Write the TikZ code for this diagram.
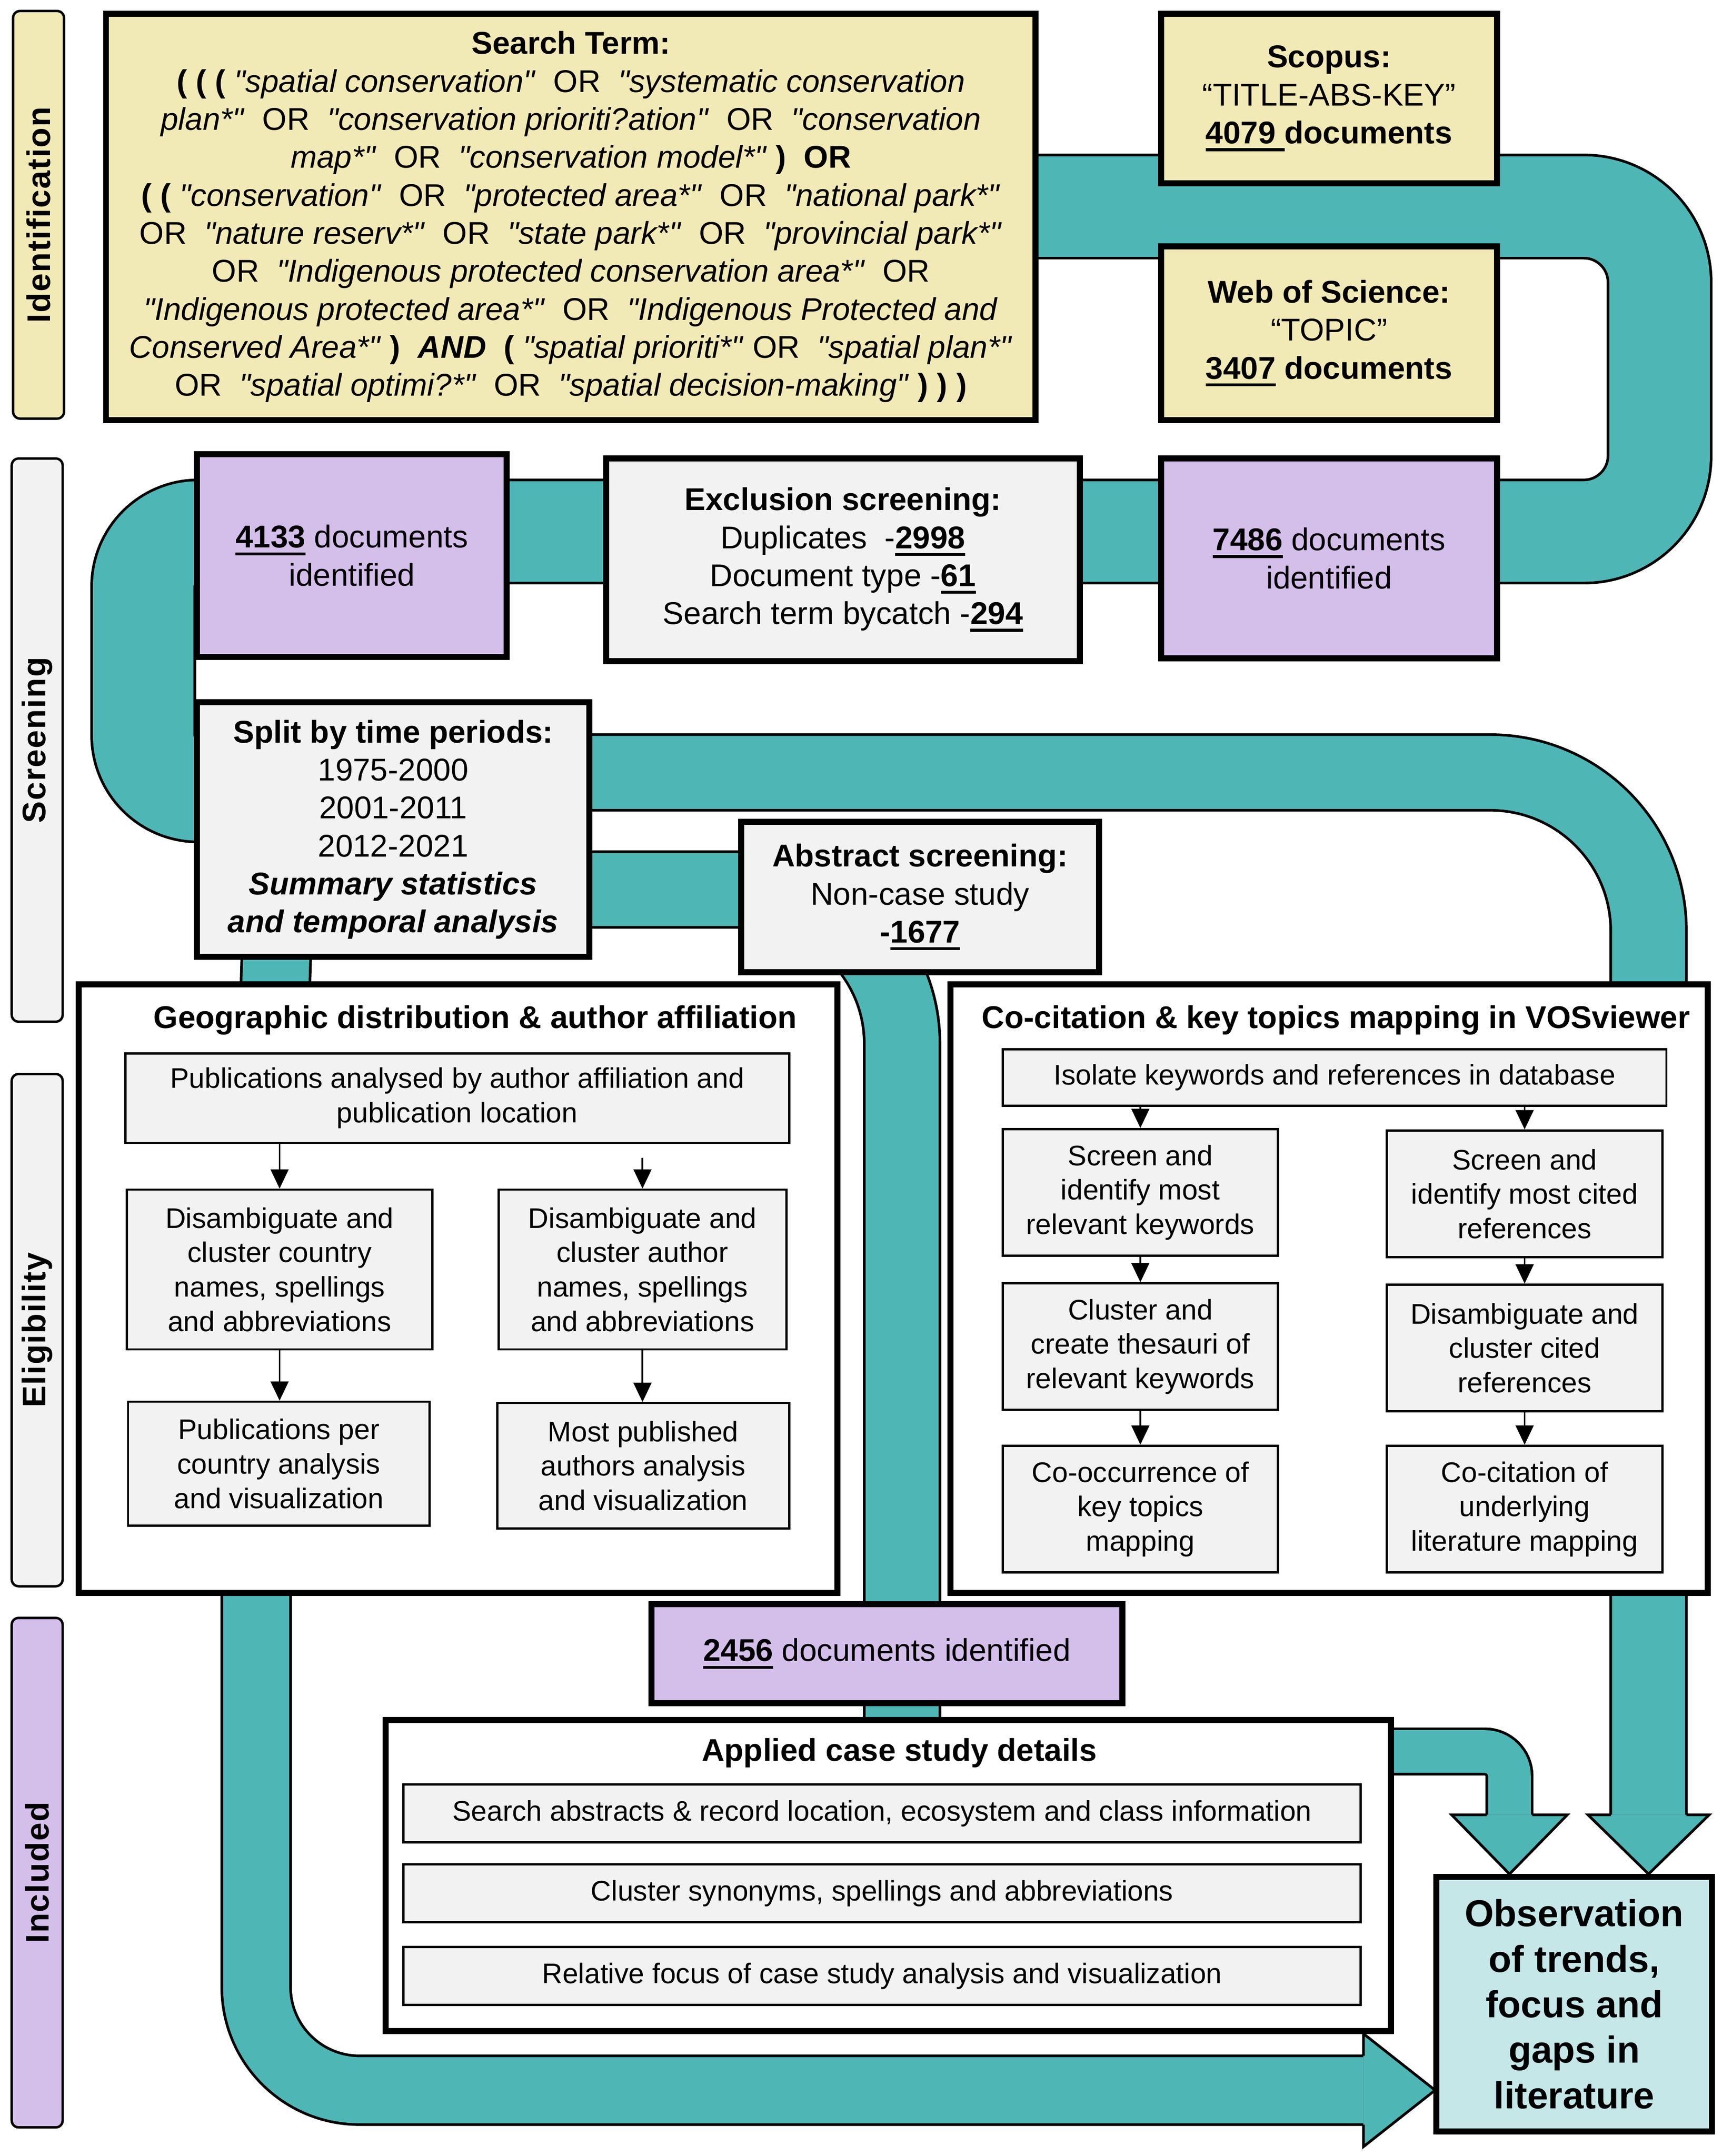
\documentclass[tikz,border=0pt]{standalone}
\usepackage{fontspec}
\setmainfont{Liberation Sans}
\newfontfamily\stagefont[LetterSpace=3]{Liberation Sans}
\usetikzlibrary{arrows.meta}

\definecolor{idyel}{HTML}{F2EAB6}
\definecolor{lav}{HTML}{D4BFEB}
\definecolor{boxgrey}{HTML}{F2F2F2}
\definecolor{pipeteal}{HTML}{4FB6B6}
\definecolor{obscyan}{HTML}{C5E7E8}

\newsavebox\undlbox
\newcommand{\undl}[1]{\sbox\undlbox{#1}\rlap{\rule[-3.1pt]{\wd\undlbox}{1.25pt}}\usebox\undlbox}
\newcommand{\orr}{\ \ OR\ \ }
% straight double quote, past the TeX ligature mapping
\newcommand{\qt}{\XeTeXglyph\XeTeXcharglyph"22\relax}

\begin{document}
\begin{tikzpicture}[x=0.2mm, y=-0.2mm,
mainbox/.style={draw, line width=2.5pt, align=center, inner sep=0pt, font=\fontsize{13}{15.7}\selectfont},
innerbox/.style={draw, line width=0.9pt, fill=boxgrey, align=center, inner sep=0pt, font=\fontsize{11.7}{14.2}\selectfont},
groupbox/.style={draw, line width=2.5pt, fill=white, inner sep=0pt},
grouptitle/.style={font=\fontsize{13}{15.7}\selectfont\bfseries},
stagelbl/.style={draw, line width=1pt, rounded corners=1mm, rotate=90, inner sep=0pt, minimum height=7.4mm, font=\stagefont\fontsize{13.5}{16}\selectfont\bfseries},
pipe/.style={draw=black, line width=1.1pt, double=pipeteal, double distance=#1},
pipehead/.style={fill=pipeteal, draw=black, line width=1.1pt, line join=miter},
arr/.style={-{Triangle[width=2.6mm,length=2.8mm]}, line width=0.7pt}
]
\useasboundingbox (0,0) rectangle (1250,1565.8);

% The stage labels
\node[stagelbl, fill=idyel, minimum width=59.2mm] (ident) at (28,156) {Identification};
\node[stagelbl, fill=boxgrey, minimum width=81.8mm] (screen) at (27,537.5) {Screening};
\node[stagelbl, fill=boxgrey, minimum width=74.4mm] (elig) at (27,966) {Eligibility};
\node[stagelbl, fill=lav, minimum width=74mm] (incl) at (27,1360) {Included};

% The pipes
\draw[pipe=14.6mm, rounded corners=11mm] (700,150) -- (1205,150) -- (1205,386) -- (960,386);
\draw[pipe=14.6mm, rounded corners=8mm] (960,386) -- (104,386) -- (104,574) -- (260,574);
\draw[pipe=10.6mm, rounded corners=23mm] (300,561) -- (1197,561) -- (1197,1318);
\draw[pipe=10.6mm, rounded corners=22.4mm] (300,646) -- (655,646) -- (655,1300);
\draw[pipe=9.6mm] (202,650) -- (186,1160) [rounded corners=15mm] -- (186,1518) -- (990,1518);
\draw[pipe=6.2mm, rounded corners=3.6mm] (900,1272) -- (1096,1272) -- (1096,1318);

% The pipe heads
\filldraw[pipehead] (990,1493) -- (990,1477) -- (1042,1518) -- (990,1559) -- (990,1543);
\filldraw[pipehead] (1169.5,1318) -- (1153,1318) -- (1197,1361) -- (1241,1318) -- (1224.5,1318);
\filldraw[pipehead] (1079.5,1318) -- (1054,1318) -- (1096,1361) -- (1138,1318) -- (1112.5,1318);

% Identification
\node[mainbox, fill=idyel, minimum width=135mm, minimum height=59mm] (search) at (414.5,157.5) {\textbf{Search Term:}\\
\textbf{( ( (} \textit{\qt{}spatial conservation\qt}\orr\textit{\qt{}systematic conservation}\\
\textit{plan*\qt}\orr\textit{\qt{}conservation prioriti?ation\qt}\orr\textit{\qt{}conservation}\\
\textit{map*\qt}\orr\textit{\qt{}conservation model*\qt} \textbf{)\ \ OR}\\
\textbf{( (} \textit{\qt{}conservation\qt}\orr\textit{\qt{}protected area*\qt}\orr\textit{\qt{}national park*\qt}\\
OR\ \ \textit{\qt{}nature reserv*\qt}\orr\textit{\qt{}state park*\qt}\orr\textit{\qt{}provincial park*\qt}\\
OR\ \ \textit{\qt{}Indigenous protected conservation area*\qt}\ \ OR\\
\textit{\qt{}Indigenous protected area*\qt}\orr\textit{\qt{}Indigenous Protected and}\\
\textit{Conserved Area*\qt} \textbf{)\ \ \textit{AND}\ \ (} \textit{\qt{}spatial prioriti*\qt} OR\ \ \textit{\qt{}spatial plan*\qt}\\
OR\ \ \textit{\qt{}spatial optimi?*\qt}\orr\textit{\qt{}spatial decision-making\qt} \textbf{) ) )}};
\node[mainbox, fill=idyel, minimum width=48.8mm, minimum height=24.6mm] (scopus) at (965,71.5) {\textbf{Scopus:}\\“TITLE-ABS-KEY”\\\textbf{\undl{4079 }documents}};
\node[mainbox, fill=idyel, minimum width=48.8mm, minimum height=25.2mm] (wos) at (965,242) {\textbf{Web of Science:}\\“TOPIC”\\\textbf{\undl{3407} documents}};

% Screening
\node[mainbox, fill=lav, minimum width=45mm, minimum height=29.4mm] (docsA) at (255.5,403.5) {\textbf{\undl{4133}} documents\\identified};
\node[mainbox, fill=boxgrey, minimum width=68.8mm, minimum height=29.4mm] (excl) at (612,406.5) {\textbf{Exclusion screening:}\\Duplicates\ \ -\textbf{\undl{2998}}\\Document type -\textbf{\undl{61}}\\Search term bycatch -\textbf{\undl{294}}};
\node[mainbox, fill=lav, minimum width=48.8mm, minimum height=29mm] (docsB) at (965,405.5) {\textbf{\undl{7486}} documents\\identified};
\node[mainbox, fill=boxgrey, minimum width=57mm, minimum height=37mm] (split) at (285.5,602.5) {\textbf{Split by time periods:}\\1975-2000\\2001-2011\\2012-2021\\\textbf{\textit{Summary statistics}}\\\textbf{\textit{and temporal analysis}}};
\node[mainbox, fill=boxgrey, minimum width=52mm, minimum height=21.8mm] (abstr) at (668,651.5) {\textbf{Abstract screening:}\\Non-case study\\\textbf{-\undl{1677}}};

% Geographic distribution
\node[groupbox, minimum width=110.2mm, minimum height=88.4mm] (geo) at (332.5,936) {};
\node[grouptitle] (geotitle) at (345,741) {Geographic distribution \& author affiliation};
\node[innerbox, minimum width=96.4mm, minimum height=13mm] (pub) at (332,797.5) {Publications analysed by author affiliation and\\publication location};
\node[innerbox, minimum width=44.4mm, minimum height=23.2mm] (cty) at (203,922) {Disambiguate and\\cluster country\\names, spellings\\and abbreviations};
\node[innerbox, minimum width=41.8mm, minimum height=23.2mm] (auth) at (466.5,922) {Disambiguate and\\cluster author\\names, spellings\\and abbreviations};
\node[innerbox, minimum width=43.8mm, minimum height=18mm] (pcty) at (202.5,1063) {Publications per\\country analysis\\and visualization};
\node[innerbox, minimum width=42.4mm, minimum height=18.2mm] (mpub) at (467,1064.5) {Most published\\authors analysis\\and visualization};
\draw[arr] (pub.south -| cty) -- (cty.north);
\draw[arr, shorten <=2mm] (pub.south -| auth) -- (auth.north);
\draw[arr] (cty.south) -- (pcty.north -| cty);
\draw[arr] (auth.south) -- (mpub.north -| auth);

% Co-citation mapping
\node[groupbox, minimum width=110mm, minimum height=88.4mm] (cocit) at (965,936) {};
\node[grouptitle] (cotitle) at (970,741) {Co-citation \& key topics mapping in VOSviewer};
\node[innerbox, minimum width=96.4mm, minimum height=8.2mm] (iso) at (969,782.5) {Isolate keywords and references in database};
\node[innerbox, minimum width=40mm, minimum height=18.4mm] (skw) at (828,866) {Screen and\\identify most\\relevant keywords};
\node[innerbox, minimum width=40mm, minimum height=18.4mm] (sref) at (1107,867) {Screen and\\identify most cited\\references};
\node[innerbox, minimum width=40mm, minimum height=18.4mm] (clkw) at (828,978) {Cluster and\\create thesauri of\\relevant keywords};
\node[innerbox, minimum width=40mm, minimum height=18.4mm] (dref) at (1107,979) {Disambiguate and\\cluster cited\\references};
\node[innerbox, minimum width=40mm, minimum height=18.4mm] (cooc) at (828,1096) {Co-occurrence of\\key topics\\mapping};
\node[innerbox, minimum width=40mm, minimum height=18.4mm] (cocl) at (1107,1096) {Co-citation of\\underlying\\literature mapping};
\draw[arr] (iso.south -| skw) -- (skw.north);
\draw[arr] (iso.south -| sref) -- (sref.north);
\draw[arr] (skw.south) -- (clkw.north);
\draw[arr] (sref.south) -- (dref.north);
\draw[arr] (clkw.south) -- (cooc.north);
\draw[arr] (dref.south) -- (cocl.north);

% Included
\node[mainbox, fill=lav, minimum width=68.4mm, minimum height=14.4mm] (docsC) at (644,1201) {\textbf{\undl{2456}} documents identified};
\node[groupbox, minimum width=146mm, minimum height=45.2mm] (applied) at (645,1362) {};
\node[grouptitle] (aptitle) at (653,1273) {Applied case study details};
\node[innerbox, minimum width=139mm, minimum height=8.4mm] (st1) at (640.5,1317) {Search abstracts \& record location, ecosystem and class information};
\node[innerbox, minimum width=139mm, minimum height=8.4mm] (st2) at (640.5,1375) {Cluster synonyms, spellings and abbreviations};
\node[innerbox, minimum width=139mm, minimum height=8.4mm] (st3) at (640.5,1435) {Relative focus of case study analysis and visualization};
\node[mainbox, fill=obscyan, minimum width=40mm, minimum height=37mm, font=\fontsize{15.5}{18.8}\selectfont\bfseries] (obs) at (1143,1455.5) {Observation\\of trends,\\focus and\\gaps in\\literature};
\end{tikzpicture}
\end{document}
